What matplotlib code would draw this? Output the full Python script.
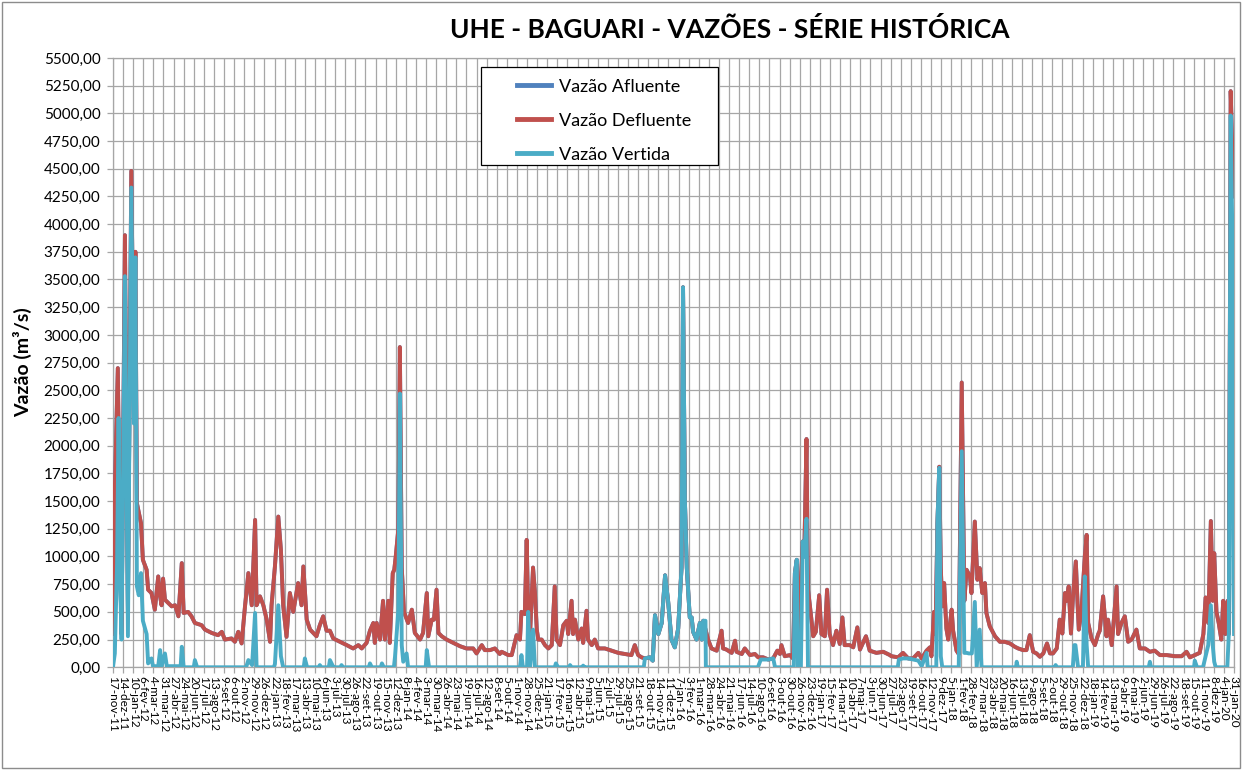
import datetime
import matplotlib
matplotlib.use('Agg')
import matplotlib.pyplot as plt
from matplotlib.patches import Rectangle

plt.rcParams['font.family'] = ['Lato', 'DejaVu Sans']

# dias contados a partir de 17-nov-11
inicio = datetime.date(2011, 11, 17)
meses = ['jan', 'fev', 'mar', 'abr', 'mai', 'jun', 'jul', 'ago', 'set', 'out', 'nov', 'dez']

dias_defluente = [
    0, 2, 5, 13, 19, 23, 32, 40, 49, 56, 60, 64, 69, 75, 80, 90, 94, 103, 112, 121,
    126, 130, 134, 139, 148, 157, 166, 175, 184, 189, 201, 210, 219, 237, 246, 264, 281, 291, 299, 317,
    326, 335, 344, 353, 362, 371, 380, 384, 393, 402, 411, 420, 424, 433, 442, 449, 455, 464, 473, 482,
    495, 504, 509, 518, 527, 544, 553, 562, 571, 580, 589, 607, 625, 642, 656, 665, 678, 687, 696, 700,
    705, 714, 722, 727, 736, 740, 748, 752, 756, 763, 767, 772, 778, 789, 799, 807, 821, 829, 839, 843,
    852, 858, 865, 870, 879, 892, 910, 928, 945, 963, 972, 986, 994, 1008, 1021, 1034, 1039, 1057, 1066, 1079,
    1088, 1092, 1101, 1106, 1110, 1115, 1123, 1128, 1133, 1137, 1146, 1155, 1164, 1173, 1181, 1186, 1195, 1204, 1213, 1217,
    1226, 1230, 1235, 1244, 1253, 1257, 1266, 1270, 1280, 1288, 1297, 1315, 1333, 1351, 1369, 1386, 1395, 1404, 1413, 1422,
    1435, 1443, 1449, 1458, 1467, 1476, 1484, 1493, 1502, 1511, 1520, 1524, 1529, 1534, 1542, 1547, 1551, 1560, 1569, 1574,
    1578, 1585, 1591, 1600, 1614, 1627, 1631, 1640, 1654, 1663, 1667, 1681, 1689, 1703, 1716, 1725, 1738, 1752, 1765, 1776,
    1783, 1787, 1796, 1810, 1818, 1823, 1828, 1832, 1844, 1848, 1854, 1858, 1863, 1872, 1879, 1888, 1894, 1903, 1909, 1916,
    1925, 1934, 1943, 1950, 1956, 1970, 1979, 1990, 1997, 2013, 2023, 2041, 2059, 2077, 2081, 2099, 2112, 2126, 2139, 2153,
    2162, 2175, 2184, 2188, 2195, 2199, 2204, 2209, 2213, 2217, 2222, 2228, 2233, 2242, 2246, 2255, 2261, 2269, 2276, 2282,
    2291, 2295, 2304, 2311, 2317, 2324, 2331, 2335, 2344, 2358, 2371, 2384, 2398, 2411, 2420, 2433, 2442, 2451, 2460, 2469,
    2478, 2487, 2497, 2505, 2513, 2523, 2531, 2538, 2545, 2549, 2555, 2561, 2567, 2574, 2579, 2582, 2589, 2598, 2603, 2607,
    2616, 2625, 2634, 2638, 2647, 2656, 2660, 2670, 2683, 2687, 2696, 2705, 2714, 2723, 2736, 2745, 2759, 2772, 2785, 2799,
    2817, 2839, 2857, 2870, 2879, 2892, 2905, 2915, 2921, 2928, 2935, 2940, 2944, 2950, 2956, 2963, 2968, 2974, 2980, 2983,
    2988, 2992, 2997]
vazao_defluente = [
    820, 300, 1600, 2700, 1000, 300, 3900, 500, 4480, 2500, 3750, 1480, 1400, 1300, 970, 880, 700, 670, 520, 820,
    640, 560, 800, 610, 580, 550, 560, 460, 940, 490, 500, 460, 400, 380, 340, 310, 290, 320, 250, 260,
    230, 320, 215, 550, 850, 560, 1330, 560, 640, 560, 430, 230, 560, 910, 1360, 1060, 560, 275, 670, 500,
    760, 560, 910, 430, 340, 280, 380, 460, 330, 330, 260, 230, 200, 170, 200, 170, 220, 330, 400, 220,
    400, 250, 600, 250, 600, 220, 850, 880, 1000, 1250, 2890, 900, 500, 400, 520, 310, 250, 310, 670, 280,
    430, 430, 700, 310, 280, 250, 220, 190, 170, 170, 125, 200, 155, 155, 170, 120, 140, 110, 110, 290,
    250, 500, 480, 1150, 500, 300, 900, 680, 340, 250, 250, 200, 170, 200, 730, 250, 200, 380, 420, 300,
    600, 300, 430, 250, 350, 220, 510, 250, 200, 250, 170, 170, 150, 130, 120, 110, 200, 110, 90, 80,
    90, 60, 470, 300, 400, 830, 600, 250, 180, 350, 900, 3430, 1500, 900, 450, 450, 320, 250, 400, 250,
    420, 330, 250, 170, 150, 330, 170, 160, 130, 240, 140, 120, 170, 110, 120, 90, 90, 70, 80, 150,
    120, 200, 100, 110, 80, 850, 970, 300, 1135, 1000, 2060, 700, 560, 280, 320, 650, 300, 280, 700, 300,
    200, 330, 210, 450, 200, 200, 180, 360, 160, 280, 150, 130, 140, 110, 100, 90, 130, 80, 80, 130,
    80, 150, 180, 100, 500, 300, 1300, 1810, 900, 550, 760, 350, 250, 520, 330, 150, 120, 2570, 600, 880,
    820, 670, 1315, 790, 895, 670, 760, 490, 370, 280, 230, 230, 215, 185, 170, 155, 155, 290, 140, 125,
    95, 125, 215, 125, 125, 170, 430, 305, 670, 600, 730, 305, 670, 955, 550, 340, 500, 1000, 1195, 400,
    260, 200, 300, 330, 640, 280, 430, 200, 730, 300, 400, 460, 230, 250, 340, 170, 170, 140, 150, 110,
    110, 100, 100, 140, 90, 110, 130, 300, 630, 400, 1320, 600, 1030, 500, 400, 250, 600, 300, 600, 300,
    5200, 4700, 4250]

# a vazao afluente praticamente coincide com a defluente no grafico
dias_afluente = list(dias_defluente)
vazao_afluente = list(vazao_defluente)

dias_vertida = [
    0, 5, 11, 15, 19, 23, 32, 40, 49, 56, 60, 64, 69, 75, 80, 90, 94, 103, 107, 121,
    126, 130, 139, 144, 181, 184, 189, 216, 219, 225, 356, 362, 372, 380, 384, 430, 433, 442, 449, 455,
    500, 510, 513, 519, 550, 553, 557, 577, 580, 588, 591, 608, 611, 615, 684, 687, 692, 716, 719, 724,
    751, 754, 763, 767, 772, 776, 785, 789, 836, 839, 845, 1088, 1092, 1096, 1107, 1110, 1115, 1123, 1128, 1181,
    1184, 1190, 1219, 1222, 1226, 1254, 1257, 1260, 1419, 1422, 1435, 1443, 1449, 1458, 1467, 1476, 1484, 1493, 1502, 1511,
    1520, 1524, 1529, 1534, 1542, 1547, 1551, 1560, 1569, 1574, 1578, 1584, 1585, 1724, 1732, 1752, 1765, 1770, 1820, 1823,
    1828, 1831, 1839, 1844, 1848, 1854, 1858, 2098, 2101, 2112, 2126, 2139, 2153, 2162, 2175, 2178, 2201, 2204, 2209, 2213,
    2217, 2261, 2269, 2276, 2282, 2288, 2296, 2304, 2309, 2317, 2322, 2414, 2416, 2419, 2518, 2520, 2524, 2566, 2570, 2573,
    2580, 2593, 2598, 2603, 2607, 2769, 2772, 2775, 2890, 2892, 2898, 2914, 2921, 2928, 2935, 2940, 2944, 2948, 2979, 2983,
    2988, 2992, 2995, 2997]
vazao_vertida = [
    0, 125, 940, 2250, 800, 250, 3530, 280, 4330, 2200, 3700, 730, 650, 850, 420, 300, 35, 80, 10, 10,
    155, 10, 125, 10, 10, 185, 0, 0, 65, 0, 0, 65, 20, 490, 0, 0, 30, 560, 100, 0,
    0, 0, 80, 0, 0, 20, 0, 0, 65, 10, 0, 0, 20, 0, 0, 35, 0, 0, 35, 0,
    0, 95, 520, 2470, 200, 50, 125, 0, 0, 155, 0, 0, 110, 0, 0, 500, 0, 340, 0, 0,
    35, 0, 0, 20, 0, 0, 15, 0, 0, 80, 90, 60, 470, 300, 400, 830, 600, 250, 180, 350,
    900, 3430, 1500, 900, 450, 450, 320, 250, 400, 250, 420, 420, 0, 0, 70, 70, 80, 0, 0, 850,
    970, 0, 0, 1135, 1000, 1340, 0, 0, 70, 80, 80, 70, 60, 10, 130, 0, 0, 1300, 1800, 100,
    0, 0, 1950, 130, 130, 125, 125, 590, 0, 340, 0, 0, 50, 0, 0, 20, 0, 0, 200, 200,
    0, 0, 820, 200, 0, 0, 50, 0, 0, 60, 0, 0, 100, 200, 560, 200, 50, 0, 0, 300,
    4980, 4000, 800, 300]

###########################

fig = plt.figure(figsize=(12.44, 7.70), dpi=100)
ax = fig.add_axes([0.0908, 0.1334, 0.9012, 0.7914])

linha_af, = ax.plot(dias_afluente, vazao_afluente, color='#4f81bd', lw=2.8, zorder=3, label='Vazão Afluente')
linha_df, = ax.plot(dias_defluente, vazao_defluente, color='#c0504d', lw=2.8, zorder=3, label='Vazão Defluente')
linha_vt, = ax.plot(dias_vertida, vazao_vertida, color='#4bacc6', lw=2.8, zorder=3, label='Vazão Vertida')

ax.set_xlim(0, 2997)
ax.set_ylim(0, 5500)

ticks = list(range(0, 2998, 27))
rotulos = []
for t in ticks:
    d = inicio + datetime.timedelta(days=t)
    rotulos.append(f"{d.day}-{meses[d.month - 1]}-{d.year % 100:02d}")
ax.set_xticks(ticks)
ax.set_xticklabels(rotulos, rotation=-90, fontsize=8.5)

yticks = list(range(0, 5501, 250))
ax.set_yticks(yticks)
ax.set_yticklabels([f"{v:.2f}".replace('.', ',') for v in yticks], fontsize=11)

ax.grid(True, color='#a6a6a6', lw=0.9)
ax.set_axisbelow(True)
for s in ax.spines.values():
    s.set_color('#a6a6a6')
    s.set_linewidth(0.9)
ax.tick_params(axis='both', direction='out', length=4, width=0.9, color='#a6a6a6')
ax.tick_params(axis='y', pad=5)
ax.tick_params(axis='x', pad=2)

ax.set_ylabel('Vazão (m³/s)', fontsize=14, fontweight='bold')
ax.yaxis.set_label_coords(-0.072, 0.5)

fig.text(730 / 1244, 1 - 29 / 770, 'UHE - BAGUARI - VAZÕES - SÉRIE HISTÓRICA',
         ha='center', va='center', fontsize=19, fontweight='bold')

# caixa da legenda
ax.add_patch(Rectangle((0.3283, 0.8243), 0.2114, 0.1608, transform=ax.transAxes,
                       facecolor='white', edgecolor='black', lw=0.9, zorder=5))
leg = ax.legend(handles=[linha_af, linha_df, linha_vt], loc='center left',
                bbox_to_anchor=(0.3524, 0.897), frameon=False, fontsize=13,
                handlelength=1.9, handletextpad=0.45, labelspacing=1.0, borderpad=0)
leg.set_zorder(6)
for h in leg.get_lines():
    h.set_linewidth(3.5)

fig.patches.append(Rectangle((0.002, 0.003), 0.995, 0.994, transform=fig.transFigure,
                             fill=False, edgecolor='#8c8c8c', lw=1))

plt.savefig('out.png', dpi=100)
